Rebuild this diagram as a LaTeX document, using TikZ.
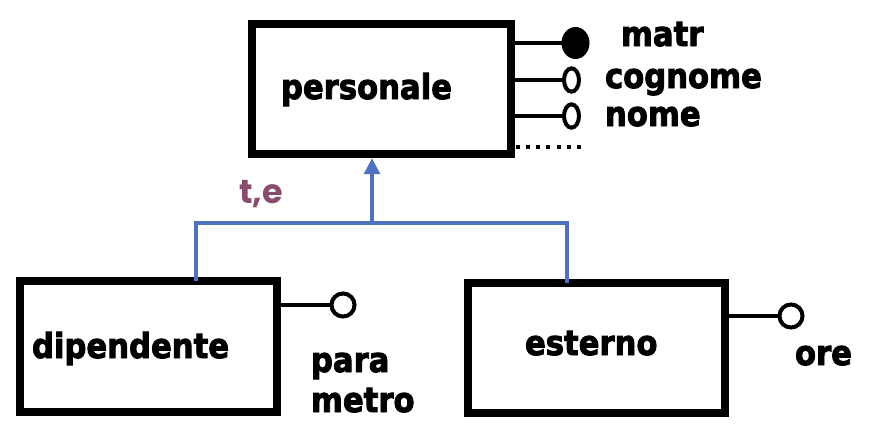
\documentclass[tikz,border=0pt]{standalone}
\usepackage{graphicx}
\usepackage{fontspec}
\setmainfont{DejaVu Sans}
\newfontfamily\heavyfont{DejaVu Sans Bold}[FakeBold=2.8]
\newfontfamily\popfont{Poppins}
\usetikzlibrary{arrows.meta,shapes.geometric,calc}
\definecolor{isablue}{HTML}{4F72BE}
\definecolor{labpurple}{HTML}{8A4C6E}
\newcommand{\tallt}[1]{\scalebox{1}[1.12]{#1}}
\tikzset{
  entity/.style={draw=black, line width=5.6pt, rectangle, inner sep=0pt, outer sep=0pt, fill=white},
  lbl/.style={anchor=base west, inner sep=0pt, outer sep=0pt, font=\heavyfont\fontsize{23}{26}\selectfont},
  attrline/.style={draw=black, line width=3pt},
  attropen/.style={draw=black, line width=3pt, fill=white, inner sep=0pt, outer sep=0pt},
  attrkey/.style={fill=black, ellipse, inner sep=0pt, outer sep=0pt, minimum width=21pt, minimum height=24pt},
  isa/.style={draw=isablue, line width=3pt},
  dotline/.style={draw=black, line width=3pt, dash pattern=on 3pt off 4.6pt}
}
\begin{document}
\begin{tikzpicture}[x=0.75pt,y=-0.75pt]
\useasboundingbox[fill=white] (0,0) rectangle (894,444);
% entities
\node[entity, minimum width=194.25pt, minimum height=97.5pt] (P) at (381.5,89) {};
\node[entity, minimum width=192.75pt, minimum height=98.25pt] (D) at (148.5,346.5) {};
\node[entity, minimum width=192.75pt, minimum height=97.5pt] (E) at (596.5,348) {};
\node[lbl] (Pt) at (281,99) {\tallt{personale}};
\node[lbl] (Dt) at (32,358) {\tallt{dipendente}};
\node[lbl] (Et) at (525,355) {\tallt{esterno}};
% attributes of personale
\node[attrkey] (matr) at (575.5,43) {};
\node[attropen, ellipse, minimum width=11.25pt, minimum height=17.5pt] (cog) at (571.5,80) {};
\node[attropen, ellipse, minimum width=11.25pt, minimum height=17.5pt] (nom) at (571.5,116) {};
\draw[attrline] (P.east |- matr) -- (matr);
\draw[attrline] (P.east |- cog) -- (cog.west);
\draw[attrline] (P.east |- nom) -- (nom.west);
\node[lbl] (matrt) at (621,46) {\tallt{matr}};
\node[lbl] (cogt) at (605,88) {\tallt{cognome}};
\node[lbl] (nomt) at (605,126) {\tallt{nome}};
\coordinate (dotA) at (516,147);
\coordinate (dotB) at (582,147);
\draw[dotline] (dotA) -- (dotB);
% attribute of dipendente
\node[attropen, circle, minimum size=17.3pt] (par) at (343,305) {};
\draw[attrline] (D.east |- par) -- (par.west);
\node[lbl] (part1) at (311,372) {\tallt{para}};
\node[lbl] (part2) at (311,412) {\tallt{metro}};
% attribute of esterno
\node[attropen, circle, minimum size=17.3pt] (ore) at (791,316) {};
\draw[attrline] (E.east |- ore) -- (ore.west);
\node[lbl] (oret) at (795,365) {\tallt{ore}};
% generalization
\coordinate (dtop) at (196,281);
\coordinate (etop) at (567,283);
\coordinate (junc) at (372,223);
\draw[isa] (dtop) |- (junc) -| (etop);
\draw[isa, -{Triangle[length=12pt, width=11.5pt]}] (junc) -- ($(junc |- P.south)+(0,4)$);
\node[anchor=base west, inner sep=0pt, text=labpurple, font=\popfont\fontsize{25}{28}\selectfont\bfseries] (te) at (239,203) {t,e};
\end{tikzpicture}
\end{document}
